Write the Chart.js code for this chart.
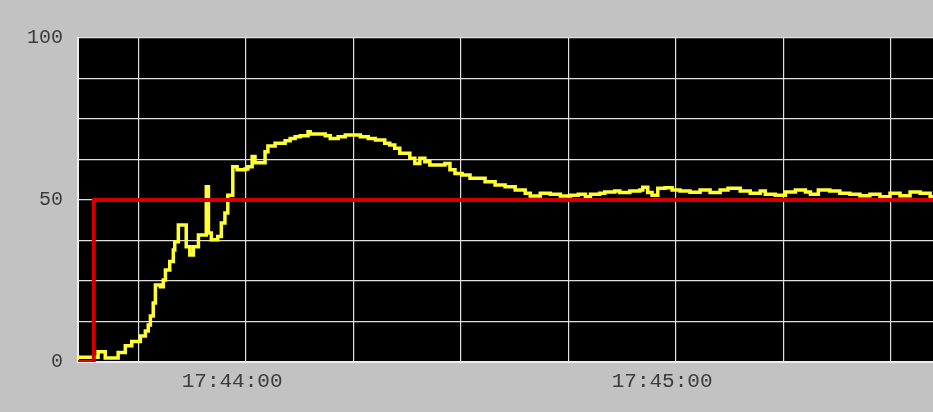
<!DOCTYPE html>
<html>
<head>
<meta charset="utf-8">
<script src="https://cdn.jsdelivr.net/npm/chart.js@4"></script>
<style>
  body { margin: 0; background: #c0c0c0; }
</style>
</head>
<body>
<canvas id="trend" width="933" height="412"></canvas>
<script>
// Time in seconds relative to 17:44:00
const pvTimes = [-21.5, -19.1, -18.7, -17.7, -15.9, -14.9, -14.0, -12.8, -12.1, -11.7, -11.4, -11.0, -10.7, -10.0,
  -9.6, -9.3, -8.7, -8.2, -8.0, -7.5, -6.7, -6.4, -5.9, -5.4, -4.7, -3.9, -3.6, -3.3, -2.9, -2.0, -1.5, -1.0, -0.6,
  0.1, 0.7, 1.8, 2.2, 2.8, 3.2, 3.9, 4.6, 5.0, 6.0, 7.4, 8.1, 8.8, 9.5, 10.6, 10.9, 12.0, 13.0, 13.7, 14.8, 15.8,
  17.2, 17.9, 19.0, 20.0, 21.3, 22.0, 22.7, 23.4, 24.8, 25.5, 26.2, 26.9, 27.6, 29.0, 29.7, 30.4, 31.1, 32.1, 33.2,
  34.3, 35.3, 36.7, 38.1, 39.5, 40.9, 41.6, 43.0, 44.4, 45.8, 47.2, 48.3, 49.3, 50.0, 51.3, 52.0, 53.4, 54.1, 55.5,
  56.9, 57.3, 58.0, 58.6, 59.4, 60.4, 61.4, 62.5, 63.9, 65.3, 66.7, 68.1, 69.2, 70.9, 72.3, 73.7, 74.4, 75.8, 77.2,
  78.6, 80.0, 80.7, 81.8, 83.4, 84.8, 86.2, 87.6, 89.0, 90.4, 91.8, 93.2, 94.6, 96.0, 97.4, 97.8];
const pvValues = [1.5, 1.5, 3.2, 1.2, 2.9, 5, 6.3, 8, 9.6, 11.4, 14.2, 18.2, 23.8, 23.2,
  25.3, 28.4, 31, 34.6, 37.1, 42.3, 42.3, 35.6, 33, 35.6, 39.2, 39.2, 54.1, 39.8, 37.7, 38.7, 42.9, 46, 51.5,
  60.3, 59.3, 59.6, 60.3, 63.4, 61.5, 61.5, 64.9, 66.7, 67.5, 68.3, 69, 69.5, 69.8, 71.1, 70.4, 70.4, 69.8, 69, 69.5, 70.1,
  70.1, 69.5, 69, 68.5, 67.5, 67, 66, 64.4, 62.9, 61.3, 62.9, 61.8, 60.8, 60.8, 61.3, 59.3, 58.2, 57.7, 56.7,
  56.7, 55.6, 54.6, 54.1, 53.1, 52.1, 51.2, 52.1, 51.8, 51.2, 51.5, 51.8, 51.0, 51.8, 52.1, 52.5, 52.8, 52.3, 52.8,
  53.1, 53.9, 52.3, 51.5, 53.6, 53.8, 53.1, 52.8, 52.4, 53.1, 52.3, 53.1, 53.6, 52.8, 52.1, 52.8, 51.8, 51.5, 52.5,
  53.1, 52.5, 51.8, 53.1, 52.8, 52.1, 51.8, 51.3, 51.8, 51.0, 52.1, 51.3, 52.5, 52.1, 51.0, 51.0];

const spTimes = [-21.5, -19.3, 97.8];
const spValues = [0, 50, 50];

const gridTicks = [-13.05, 1.95, 16.95, 31.95, 46.95, 61.95, 76.95, 91.95];
const labelTicks = [0, 60];
const yLabelTicks = [0, 50, 100];

const xMin = -21.5, xMax = 97.8;

function toXY(times, values) {
  return times.map((t, i) => ({ x: t, y: values[i] }));
}

function clock(t) {
  const s = 17 * 3600 + 44 * 60 + Math.round(t);
  const pad = n => String(n).padStart(2, '0');
  return pad(Math.floor(s / 3600)) + ':' + pad(Math.floor(s / 60) % 60) + ':' + pad(s % 60);
}

const backdrop = {
  id: 'backdrop',
  beforeDraw(chart) {
    const { ctx, chartArea: a } = chart;
    ctx.save();
    ctx.fillStyle = '#c2c2c2';
    ctx.fillRect(0, 0, chart.width, chart.height);
    ctx.fillStyle = '#000000';
    ctx.fillRect(a.left, a.top, a.right - a.left, a.bottom - a.top);
    ctx.restore();
  }
};

new Chart(document.getElementById('trend'), {
  type: 'line',
  data: {
    datasets: [{
      label: 'SP',
      data: toXY(spTimes, spValues),
      borderColor: '#d40000',
      borderWidth: 4,
      stepped: true,
      pointRadius: 0
    }, {
      label: 'PV',
      data: toXY(pvTimes, pvValues),
      borderColor: '#ffff33',
      borderWidth: 3.5,
      stepped: true,
      pointRadius: 0
    }]
  },
  options: {
    responsive: false,
    animation: false,
    layout: { padding: { top: 38, right: 0, left: 0, bottom: 0 } },
    plugins: { legend: { display: false }, tooltip: { enabled: false } },
    scales: {
      x: {
        type: 'linear',
        min: xMin,
        max: xMax,
        afterBuildTicks: scale => {
          scale.ticks = gridTicks.concat(labelTicks).sort((a, b) => a - b).map(v => ({ value: v }));
        },
        afterFit: scale => { scale.height = 50; },
        grid: {
          drawTicks: false,
          lineWidth: 1.2,
          color: ctx => labelTicks.includes(ctx.tick && ctx.tick.value) ? 'rgba(0,0,0,0)' : '#e0e0e0'
        },
        border: { display: true, color: '#eeeeee', width: 2 },
        ticks: {
          autoSkip: false,
          maxRotation: 0,
          padding: 7,
          color: '#3c3c3c',
          font: { family: 'Liberation Mono', size: 21 },
          callback: v => labelTicks.includes(v) ? clock(v) : ''
        }
      },
      y: {
        min: 0,
        max: 100,
        afterFit: scale => { scale.width = 78; },
        grid: { drawTicks: false, color: '#e0e0e0', lineWidth: 1.2 },
        border: { display: true, color: '#eeeeee', width: 2 },
        ticks: {
          stepSize: 12.5,
          padding: 15,
          color: '#3c3c3c',
          font: { family: 'Liberation Mono', size: 20 },
          callback: v => yLabelTicks.includes(v) ? v : ''
        }
      }
    }
  },
  plugins: [backdrop]
});
</script>
</body>
</html>
